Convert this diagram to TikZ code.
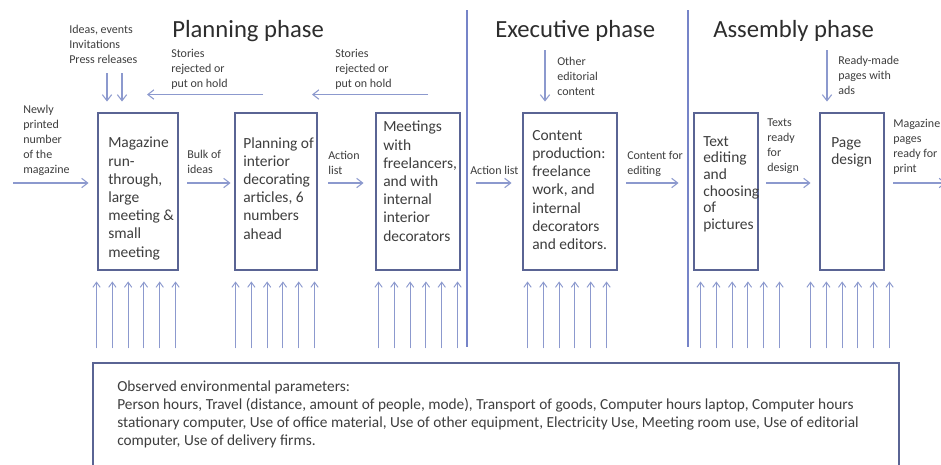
\documentclass[tikz,border=0pt]{standalone}
\usepackage{fontspec}
\setmainfont{Carlito}
\usetikzlibrary{arrows.meta}
\definecolor{boxc}{RGB}{90,100,148}
\definecolor{arrc}{RGB}{140,153,206}
\definecolor{sepc}{RGB}{118,132,200}
\definecolor{txtc}{RGB}{62,62,62}
\definecolor{titc}{RGB}{45,45,45}
\begin{document}
\begin{tikzpicture}[x=0.75pt,y=-0.75pt,
  procbox/.style={draw=boxc, line width=2.2pt, minimum height=117.75pt, inner sep=0pt},
  envbox/.style={draw=boxc, line width=1.8pt, inner sep=0pt},
  lab/.style={font=\fontsize{9}{11.25}\selectfont, text=txtc, align=left, anchor=north west, inner sep=0pt},
  boxtxt/.style={font=\fontsize{11.6}{13.65}\selectfont, text=txtc, align=left, anchor=north west, inner sep=0pt},
  phasetitle/.style={font=\fontsize{18.5}{22}\selectfont, text=titc, anchor=base west, inner sep=0pt},
  arr/.style={draw=arrc, line width=0.8pt, -{Straight Barb[length=4.5pt,width=7pt]}},
  uarr/.style={draw=arrc, line width=0.7pt, -{Straight Barb[length=3.8pt,width=5.5pt]}},
  sep/.style={draw=sepc, line width=1.3pt}]
\useasboundingbox (0,0) rectangle (941,464);
\fill[white] (0,0) rectangle (941,464);

% phase titles
\node[phasetitle] (t1) at (172,37) {Planning phase};
\node[phasetitle] (t2) at (495,37) {Executive phase};
\node[phasetitle] (t3) at (713,37) {Assembly phase};

% separators
\draw[sep] (467,10) -- (467,347);
\draw[sep] (688,10) -- (688,347);

% process boxes
\node[procbox, minimum width=60pt] (b1) at (138,191.5) {};
\node[procbox, minimum width=61.5pt] (b2) at (276,191.5) {};
\node[procbox, minimum width=63pt] (b3) at (418,191.5) {};
\node[procbox, minimum width=70.5pt] (b4) at (570,191.5) {};
\node[procbox, minimum width=48pt] (b5) at (726,191.5) {};
\node[procbox, minimum width=48pt] (b6) at (852,191.5) {};

% box texts
\node[boxtxt] (x1) at (108,137) {Magazine\\run-\\through,\\large\\meeting \&\\small\\meeting};
\node[boxtxt] (x2) at (243,137) {Planning of\\interior\\decorating\\articles, 6\\numbers\\ahead};
\node[boxtxt] (x3) at (383,121) {Meetings\\with\\freelancers,\\and with\\internal\\interior\\decorators};
\node[boxtxt] (x4) at (532,130) {Content\\production:\\freelance\\work, and\\internal\\decorators\\and editors.};
\node[boxtxt, font=\fontsize{11.6}{12.5}\selectfont] (x5) at (703,136) {Text\\editing\\and\\choosing\\of\\pictures};
\node[boxtxt, font=\fontsize{11.6}{12.75}\selectfont] (x6) at (831,137) {Page\\design};

% environment box
\node[envbox, minimum width=604.5pt, minimum height=90pt] (env) at (496,423) {};
\node[lab, font=\fontsize{11.5}{13.5}\selectfont] (envt) at (117,381) {Observed environmental parameters:\\Person hours, Travel (distance, amount of people, mode), Transport of goods, Computer hours laptop, Computer hours\\stationary computer, Use of office material, Use of other equipment, Electricity Use, Meeting room use, Use of editorial\\computer, Use of delivery firms.};

% small labels
\node[lab] (l1) at (69,25) {Ideas, events\\Invitations\\Press releases};
\node[lab] (l2) at (171,49) {Stories\\rejected or\\put on hold};
\node[lab] (l3) at (335,49) {Stories\\rejected or\\put on hold};
\node[lab] (l4) at (557,57) {Other\\editorial\\content};
\node[lab] (l5) at (838,56) {Ready-made\\pages with\\ads};
\node[lab] (l6) at (23,105) {Newly\\printed\\number\\of the\\magazine};
\node[lab] (l7) at (187,150) {Bulk of\\ideas};
\node[lab] (l8) at (328,151) {Action\\list};
\node[lab] (l9) at (470,166) {Action list};
\node[lab] (l10) at (627,151) {Content for\\editing};
\node[lab] (l11) at (767,119) {Texts\\ready\\for\\design};
\node[lab] (l12) at (893,119) {Magazine\\pages\\ready for\\print};

% free ends
\coordinate (nin) at (13,183);
\coordinate (mout) at (946,183);
\coordinate (i1) at (107,73);
\coordinate (i2) at (122,73);
\coordinate (oe) at (545,50);
\coordinate (rm) at (827,50);

% down arrows
\draw[arr] (i1) -- ([shift={(-31,-10)}]b1.north);
\draw[arr] (i2) -- ([shift={(-16,-10)}]b1.north);
\draw[arr] (oe) -- ([shift={(-25,-10)}]b4.north);
\draw[arr] (rm) -- ([shift={(-25,-10)}]b6.north);

% feedback arrows
\draw[arr] ([shift={(-13,-17)}]b2.north) -- ([shift={(9,-17)}]b1.north);
\draw[arr] ([shift={(10,-17)}]b3.north) -- ([shift={(36,-17)}]b2.north);

% horizontal flow
\draw[arr] (nin) -- ([shift={(-8,-8.5)}]b1.west);
\draw[arr] ([shift={(8,-8.5)}]b1.east) -- ([shift={(-3,-8.5)}]b2.west);
\draw[arr] ([shift={(10,-8.5)}]b2.east) -- ([shift={(-11,-8.5)}]b3.west);
\draw[arr] ([shift={(15,-8.5)}]b3.east) -- ([shift={(-10,-8.5)}]b4.west);
\draw[arr] ([shift={(8,-8.5)}]b4.east) -- ([shift={(-14,-8.5)}]b5.west);
\draw[arr] ([shift={(7,-8.5)}]b5.east) -- ([shift={(-8,-8.5)}]b6.west);
\draw[arr] ([shift={(8,-8.5)}]b6.east) -- (mout);

% upward arrows from environment parameters
\foreach \b/\s in {b1/0,b2/2,b3/4,b4/6,b5/8,b6/-8}{
  \foreach \i in {0,...,5}{
    \draw[uarr] ([shift={({\s+\i*15.8},77)}]\b.south west) -- ([shift={({\s+\i*15.8},10)}]\b.south west);
  }
}
\end{tikzpicture}
\end{document}
